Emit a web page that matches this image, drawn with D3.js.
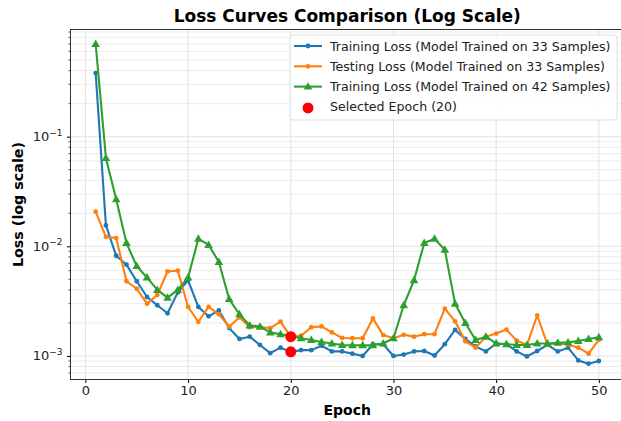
<!DOCTYPE html>
<html>
<head>
<meta charset="utf-8">
<script src="https://cdn.jsdelivr.net/npm/d3@7"></script>
<style>
  body { margin: 0; background: #fff; }
  text { font-family: "DejaVu Sans", sans-serif; }
</style>
</head>
<body>
<div id="chart"></div>
<script>
// values
var epochs = d3.range(1, 51);

var trainLoss33 = [0.38, 0.0155, 0.0082, 0.0068, 0.0048, 0.00345, 0.0029, 0.00245, 0.0038, 0.0049,
    0.0028, 0.0023, 0.0026, 0.0018, 0.00143, 0.0015, 0.00126, 0.00106, 0.00119, 0.00109,
    0.00113, 0.00113, 0.00124, 0.0011, 0.0011, 0.00105, 0.001, 0.00128, 0.00128, 0.001,
    0.00103, 0.0011, 0.00111, 0.00101, 0.00128, 0.00173, 0.00143, 0.00122, 0.0011, 0.0013,
    0.00128, 0.0011, 0.00099, 0.00111, 0.00126, 0.0011, 0.00119, 0.00091, 0.00085, 0.0009];

var testLoss33 = [0.0207, 0.0122, 0.0119, 0.0048, 0.0041, 0.003, 0.0036, 0.0059, 0.006, 0.0028,
    0.00205, 0.0028, 0.0024, 0.00185, 0.00225, 0.00183, 0.00185, 0.00179, 0.00206, 0.0015,
    0.00153, 0.00183, 0.00186, 0.00164, 0.00146, 0.00145, 0.00145, 0.0022, 0.00155, 0.00145,
    0.00156, 0.0015, 0.00158, 0.00158, 0.0027, 0.00207, 0.00136, 0.00119, 0.0015, 0.0016,
    0.00174, 0.00138, 0.00126, 0.00234, 0.00127, 0.0013, 0.00127, 0.00119, 0.00105, 0.0014];

var trainLoss42 = [0.7, 0.0637, 0.0268, 0.0107, 0.0066, 0.0052, 0.004, 0.0034, 0.004, 0.0052,
    0.0117, 0.0103, 0.0072, 0.0033, 0.0024, 0.0019, 0.00185, 0.00164, 0.00158, 0.00153,
    0.00145, 0.0014, 0.00134, 0.0013, 0.00126, 0.00125, 0.00125, 0.00125, 0.0013, 0.00145,
    0.0029, 0.0049, 0.0107, 0.0117, 0.0093, 0.003, 0.002, 0.0014, 0.0015, 0.0013,
    0.00128, 0.00126, 0.00126, 0.0013, 0.0013, 0.00132, 0.00133, 0.00137, 0.00143, 0.00148];

var selectedEpoch = 20;
var xTicks = [0, 10, 20, 30, 40, 50];
var yTicks = [1e-3, 1e-2, 1e-1];
var seriesNames = ["Training Loss (Model Trained on 33 Samples)",
    "Testing Loss (Model Trained on 33 Samples)",
    "Training Loss (Model Trained on 42 Samples)",
    "Selected Epoch (20)"];

var width = 621, height = 421;
var plotL = 70.5, plotR = 624, plotT = 29.5, plotB = 379.5;

var svg = d3.select("#chart").append("svg")
    .attr("width", width)
    .attr("height", height);

var x = d3.scaleLinear().domain([-1.45, 52.45]).range([plotL, plotR]);
var y = d3.scaleLog().domain([6.1e-4, 0.949]).range([plotB, plotT]);

// grid, major and minor
var minorY = [];
[1e-4, 1e-3, 1e-2, 1e-1].forEach(function (d) {
    for (var k = 2; k < 10; k++) {
        var v = d * k;
        if (v > y.domain()[0] && v < y.domain()[1]) minorY.push(v);
    }
});

svg.selectAll(".minor").data(minorY).enter().append("line")
    .attr("x1", plotL).attr("x2", plotR)
    .attr("y1", function (d) { return y(d); })
    .attr("y2", function (d) { return y(d); })
    .attr("stroke", "#e6e6e6").attr("stroke-width", 0.8);

svg.selectAll(".majorY").data(yTicks).enter().append("line")
    .attr("x1", plotL).attr("x2", plotR)
    .attr("y1", function (d) { return y(d); })
    .attr("y2", function (d) { return y(d); })
    .attr("stroke", "#dcdcdc").attr("stroke-width", 0.8);

svg.selectAll(".majorX").data(xTicks).enter().append("line")
    .attr("x1", function (d) { return x(d); })
    .attr("x2", function (d) { return x(d); })
    .attr("y1", plotT).attr("y2", plotB)
    .attr("stroke", "#dcdcdc").attr("stroke-width", 0.8);

// axes
var xAxis = d3.axisBottom(x).tickValues(xTicks).tickSize(3.5).tickPadding(3).tickFormat(d3.format("d"));
var gx = svg.append("g").attr("transform", "translate(0," + plotB + ")").call(xAxis);
gx.select(".domain").remove();
gx.selectAll("text").attr("font-size", "13px").attr("fill", "#222");

var yAxis = d3.axisLeft(y).tickValues(yTicks).tickSize(3.5).tickPadding(3).tickFormat("");
var gy = svg.append("g").attr("transform", "translate(" + plotL + ",0)").call(yAxis);
gy.select(".domain").remove();

svg.selectAll(".minorTick").data(minorY).enter().append("line")
    .attr("x1", plotL - 2).attr("x2", plotL)
    .attr("y1", function (d) { return y(d); })
    .attr("y2", function (d) { return y(d); })
    .attr("stroke", "#222").attr("stroke-width", 0.8);

yTicks.forEach(function (d) {
    var t = svg.append("text")
        .attr("x", plotL - 8)
        .attr("y", y(d) + 4.5)
        .attr("text-anchor", "end")
        .attr("font-size", "13px")
        .attr("fill", "#222");
    t.append("tspan").text("10");
    t.append("tspan").attr("dy", -5.5).attr("font-size", "9px").text("\u2212" + Math.round(-Math.log10(d)));
});

// spines
svg.append("rect")
    .attr("x", plotL).attr("y", plotT)
    .attr("width", plotR - plotL).attr("height", plotB - plotT)
    .attr("fill", "none").attr("stroke", "#333").attr("stroke-width", 1);

// lines
var series = [
    { values: trainLoss33, color: "#1f77b4", marker: "dot" },
    { values: testLoss33, color: "#ff7f0e", marker: "dot" },
    { values: trainLoss42, color: "#2ca02c", marker: "tri" }
];

var line = d3.line()
    .x(function (d, i) { return x(epochs[i]); })
    .y(function (d) { return y(d); });

var tri = d3.symbol().type(d3.symbolTriangle).size(32);

series.forEach(function (s) {
    svg.append("path")
        .datum(s.values)
        .attr("d", line)
        .attr("fill", "none")
        .attr("stroke", s.color)
        .attr("stroke-width", 2.1)
        .attr("stroke-linejoin", "round");

    if (s.marker == "dot") {
        svg.append("g").selectAll("circle").data(s.values).enter().append("circle")
            .attr("cx", function (d, i) { return x(epochs[i]); })
            .attr("cy", function (d) { return y(d); })
            .attr("r", 2.4)
            .attr("fill", s.color);
    } else {
        svg.append("g").selectAll("path").data(s.values).enter().append("path")
            .attr("d", tri)
            .attr("transform", function (d, i) { return "translate(" + x(epochs[i]) + "," + (y(d) + 0.5) + ")"; })
            .attr("fill", s.color);
    }
});

// selected epoch
var sel = [trainLoss33[selectedEpoch - 1], testLoss33[selectedEpoch - 1]];
svg.selectAll(".sel").data(sel).enter().append("circle")
    .attr("cx", x(selectedEpoch))
    .attr("cy", function (d) { return y(d); })
    .attr("r", 5.5)
    .attr("fill", "red");

// legend
var lg = svg.append("g").attr("transform", "translate(290,35)");
lg.append("rect")
    .attr("width", 327).attr("height", 85).attr("rx", 3)
    .attr("fill", "white").attr("fill-opacity", 0.85)
    .attr("stroke", "#d6d6d6").attr("stroke-width", 0.8);

seriesNames.forEach(function (name, i) {
    var ry = 11 + i * 20.3;
    var row = lg.append("g").attr("transform", "translate(0," + ry + ")");
    if (i < 3) {
        var s = series[i];
        row.append("line").attr("x1", 4).attr("x2", 32).attr("y1", 0).attr("y2", 0)
            .attr("stroke", s.color).attr("stroke-width", 2.1);
        if (s.marker == "dot") {
            row.append("circle").attr("cx", 18).attr("cy", 0).attr("r", 2.4).attr("fill", s.color);
        } else {
            row.append("path").attr("d", tri).attr("transform", "translate(18,0.5)").attr("fill", s.color);
        }
    } else {
        row.append("circle").attr("cx", 18).attr("cy", 1).attr("r", 5.5).attr("fill", "red");
    }
    row.append("text")
        .attr("x", 40).attr("y", 4.5)
        .attr("font-size", "12.6px")
        .attr("fill", "#222")
        .text(name);
});

// titles
svg.append("text")
    .attr("x", (plotL + plotR) / 2).attr("y", 22)
    .attr("text-anchor", "middle")
    .attr("font-size", "17px").attr("font-weight", "bold")
    .text("Loss Curves Comparison (Log Scale)");

svg.append("text")
    .attr("x", (plotL + plotR) / 2).attr("y", 415)
    .attr("text-anchor", "middle")
    .attr("font-size", "14px").attr("font-weight", "bold")
    .text("Epoch");

svg.append("text")
    .attr("transform", "translate(23," + (plotT + plotB) / 2 + ") rotate(-90)")
    .attr("text-anchor", "middle")
    .attr("font-size", "14.3px").attr("font-weight", "bold")
    .text("Loss (log scale)");
</script>
</body>
</html>
